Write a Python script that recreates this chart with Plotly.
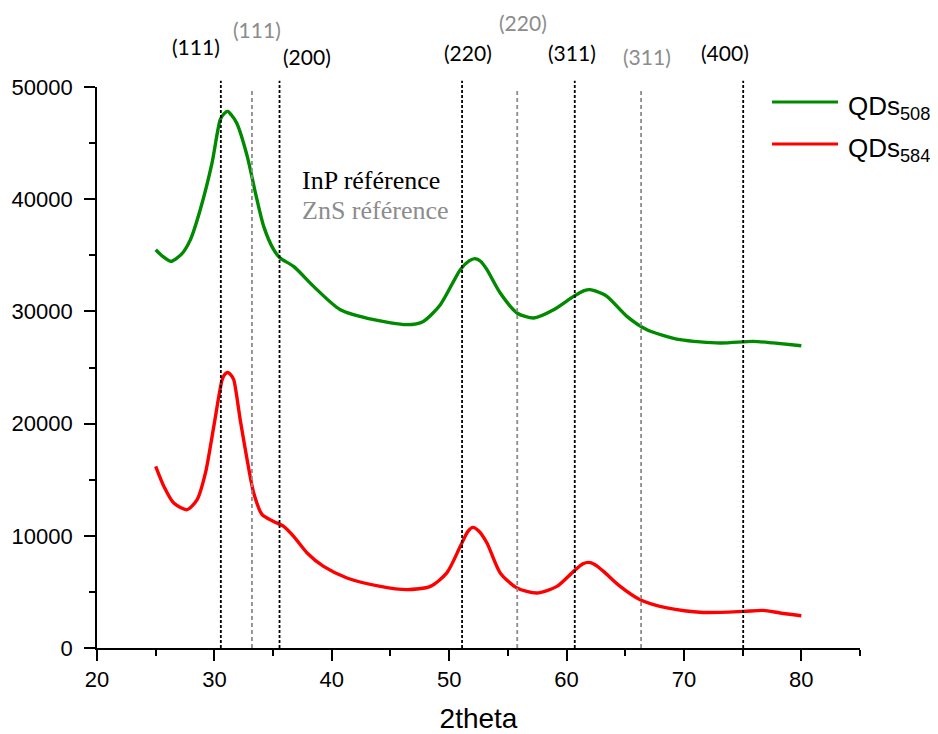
import plotly.graph_objects as go

# ---- data ----
x_508 = [25.0, 25.6, 26.3, 27.2, 27.96, 28.8, 29.8, 30.5, 30.85, 31.14, 31.45, 31.9, 32.8, 33.5, 34.2, 35.05,
         35.6, 36.75, 38.45, 40.73, 43.57, 46.4, 47.8, 49.25, 50.95, 51.7, 52.2, 52.7, 53.22, 54.35, 55.78,
         57.2, 58.9, 60.6, 61.5, 62.0, 62.5, 63.44, 65.14, 66.85, 69.68, 73.1, 75.9, 77.6, 80.0]
y_508 = [35500, 34900, 34460, 35100, 36400, 39080, 43230, 47090, 47650, 47830, 47500, 46790, 43820, 40550, 37580, 35500,
         34760, 34010, 32230, 30150, 29260, 28820, 29110, 30600, 33720, 34500, 34700, 34450, 33720, 31640, 29860,
         29410, 30150, 31340, 31850, 31940, 31800, 31340, 29560, 28370, 27480, 27190, 27330, 27190, 26940]

x_584 = [25.0, 25.7, 26.54, 27.68, 28.53, 29.24, 29.95, 30.66, 30.9, 31.14, 31.4, 31.65, 32.2, 32.79, 33.35, 34.07,
         35.05, 35.9, 36.75, 37.9, 39.3, 41.3, 44.14, 46.4, 48.4, 49.8, 50.95, 51.6, 52.03, 52.5, 53.22, 54.35,
         55.78, 57.47, 59.18, 60.6, 61.4, 61.87, 62.4, 63.15, 64.57, 66.27, 68.55, 71.66, 75.07, 76.77, 78.2, 80.0]
y_584 = [16190, 14400, 12920, 12330, 13220, 15600, 19750, 23910, 24400, 24560, 24350, 23910, 20350, 16780, 13810, 11880,
         11280, 10840, 9950, 8470, 7270, 6240, 5490, 5200, 5490, 6690, 9060, 10400, 10750, 10450, 9360, 6690,
         5350, 4900, 5490, 6830, 7500, 7630, 7450, 6830, 5490, 4300, 3570, 3170, 3260, 3350, 3120, 2880]

inp_peaks = [30.55, 35.55, 51.1, 60.7, 75.05]
inp_labels = ["(111)", "(200)", "(220)", "(311)", "(400)"]
zns_peaks = [33.2, 55.8, 66.35]
zns_labels = ["(111)", "(220)", "(311)"]

series_names = ["QDs<sub>508</sub>", "QDs<sub>584</sub>"]
series_colors = ["#008a00", "#ff0000"]

# ---- figure ----
fig = go.Figure()
fig.add_trace(go.Scatter(x=x_508, y=y_508, mode="lines", name="QDs508",
                         line=dict(color=series_colors[0], width=3.4, shape="spline", smoothing=0.7),
                         showlegend=False))
fig.add_trace(go.Scatter(x=x_584, y=y_584, mode="lines", name="QDs584",
                         line=dict(color=series_colors[1], width=3.4, shape="spline", smoothing=0.7),
                         showlegend=False))

shapes = []
annotations = []
black_lbl_y = [1.073, 1.055, 1.061, 1.061, 1.061]
gray_lbl_y = [1.103, 1.115, 1.055]
black_lbl_dx = [-2.08, 2.37, 0.53, -0.21, -1.55]
gray_lbl_dx = [0.47, 0.51, 0.52]

for xv, lbl, ly, dx in zip(inp_peaks, inp_labels, black_lbl_y, black_lbl_dx):
    shapes.append(dict(type="line", xref="x", yref="paper", x0=xv, x1=xv, y0=0, y1=1.011,
                       line=dict(color="black", width=1.8, dash="3px,2px")))
    annotations.append(dict(x=xv + dx, y=ly, xref="x", yref="paper", text=lbl, showarrow=False,
                            font=dict(family="Lato", size=21, color="black"),
                            xanchor="center", yanchor="middle"))
for xv, lbl, ly, dx in zip(zns_peaks, zns_labels, gray_lbl_y, gray_lbl_dx):
    shapes.append(dict(type="line", xref="x", yref="paper", x0=xv, x1=xv, y0=0, y1=0.993,
                       line=dict(color="#8c8c8c", width=1.8, dash="4px,3px")))
    annotations.append(dict(x=xv + dx, y=ly, xref="x", yref="paper", text=lbl, showarrow=False,
                            font=dict(family="Lato", size=21, color="#8c8c8c"),
                            xanchor="center", yanchor="middle"))

annotations.append(dict(x=0.266, y=0.834, xref="paper", yref="paper", text="InP référence",
                        showarrow=False, xanchor="left", yanchor="middle",
                        font=dict(family="Liberation Serif", size=26, color="black")))
annotations.append(dict(x=0.266, y=0.779, xref="paper", yref="paper", text="ZnS référence",
                        showarrow=False, xanchor="left", yanchor="middle",
                        font=dict(family="Liberation Serif", size=26, color="#8c8c8c")))

# manual legend
leg_y = [0.9733, 0.8984]
for name, col, ly in zip(series_names, series_colors, leg_y):
    shapes.append(dict(type="line", xref="paper", yref="paper", x0=0.8847, x1=0.9712, y0=ly, y1=ly,
                       line=dict(color=col, width=3)))
    annotations.append(dict(x=0.9817, y=ly - 0.010, xref="paper", yref="paper", text=name, showarrow=False,
                            xanchor="left", yanchor="middle",
                            font=dict(family="Liberation Sans", size=26, color="black")))

axis_common = dict(showline=True, linecolor="black", linewidth=1.6, mirror=False,
                   ticks="outside", ticklen=11, tickwidth=1.6, tickcolor="black",
                   showgrid=False, zeroline=False, tickformat="d", automargin=False,
                   tickfont=dict(family="Liberation Sans", size=22, color="black"))

fig.update_layout(
    width=930, height=726,
    margin=dict(l=89, r=78, t=79, b=86),
    paper_bgcolor="white", plot_bgcolor="white",
    shapes=shapes, annotations=annotations,
    xaxis=dict(range=[20, 85], tickvals=[20, 30, 40, 50, 60, 70, 80],
               minor=dict(tickvals=[25, 35, 45, 55, 65, 75, 85], ticklen=6, tickwidth=1.6,
                          tickcolor="black", ticks="outside"),
               title=dict(text="2theta", font=dict(family="Liberation Sans", size=28, color="black"),
                          standoff=17),
               **axis_common),
    yaxis=dict(range=[0, 50000], tickvals=[0, 10000, 20000, 30000, 40000, 50000],
               minor=dict(tickvals=[5000, 15000, 25000, 35000, 45000], ticklen=6, tickwidth=1.6,
                          tickcolor="black", ticks="outside"),
               ticklabelstandoff=7,
               **axis_common),
    showlegend=False,
)

fig.write_html("out.html")
